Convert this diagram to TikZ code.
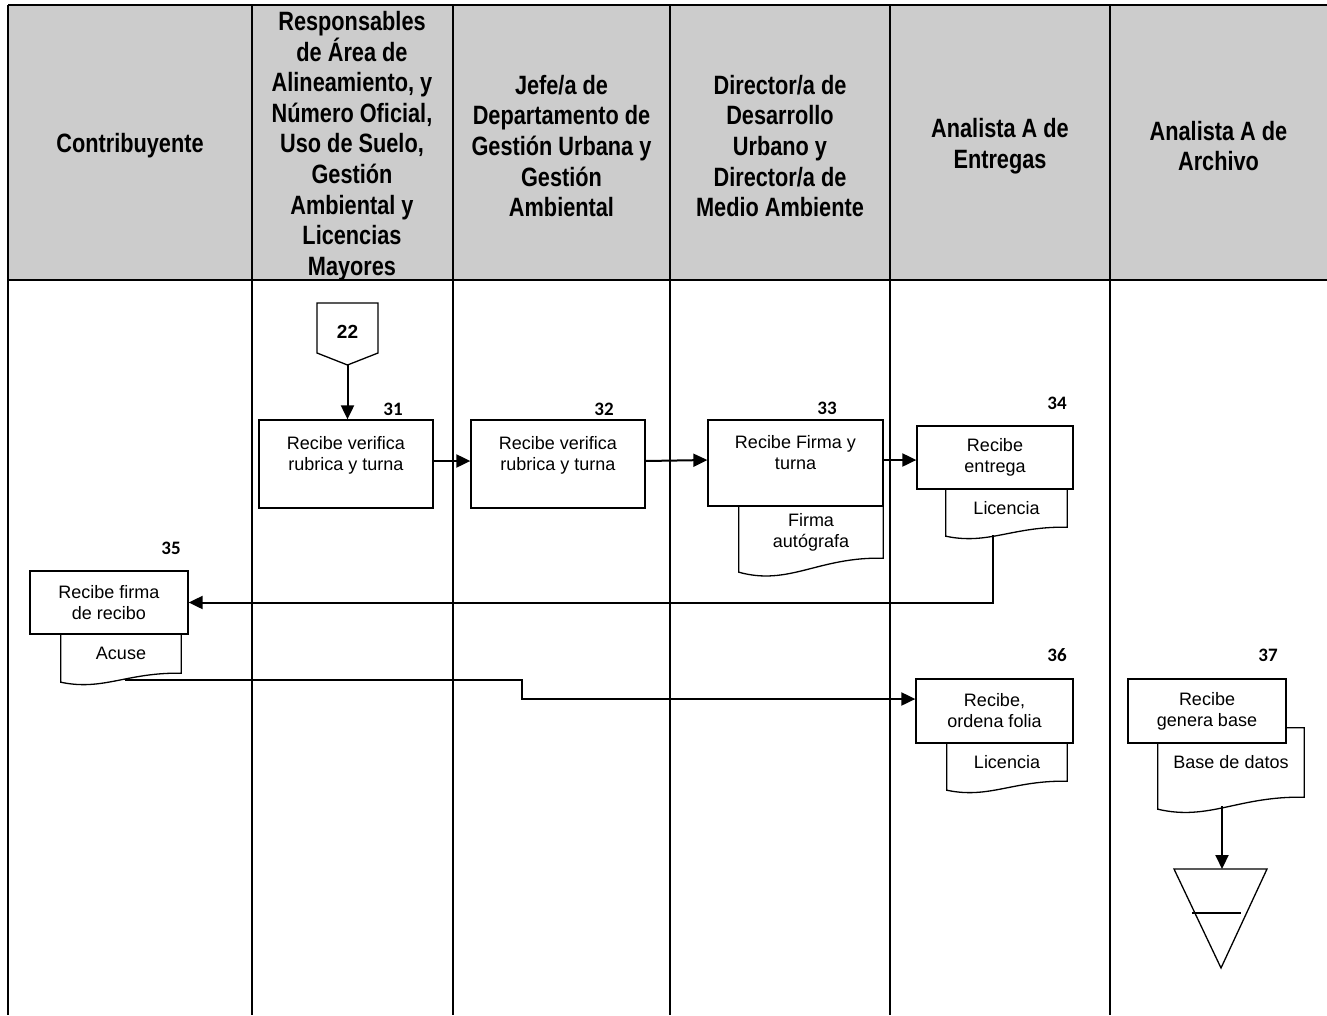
\documentclass[tikz,border=0pt]{standalone}
\usepackage{fontspec}
\setmainfont{Liberation Sans}
\newfontfamily\hdrfont[FakeStretch=0.82]{Liberation Sans}
\newfontfamily\numfont{Carlito}
\usetikzlibrary{arrows.meta, calc}
\usepackage{xcolor}
\definecolor{hdrgray}{RGB}{204,204,204}

% contorno de documento alrededor del nodo #1, onda #2
\newcommand{\docout}[2]{%
  \draw[shapeline] (#1.north west) -- (#1.north east) -- (#1.south east)
    .. controls ($(#1.south west)!0.55!(#1.south east)+(0,-0.11*#2)$)
    and ($(#1.south west)!0.35!(#1.south east)+(0,2*#2)$)
    .. ($(#1.south west)+(0,#2)$) -- cycle;}

\begin{document}
\begin{tikzpicture}[x=1pt, y=-1pt,
    tabline/.style={line width=2pt},
    shapeline/.style={line width=1.3pt},
    flow/.style={line width=2pt, -{Triangle[length=14pt,width=13pt]}},
    hdr/.style={font=\hdrfont\bfseries\fontsize{26.5}{30.6}\selectfont, align=center},
    procbox/.style={draw, line width=1.3pt, fill=white, inner sep=0pt, align=center,
      font=\fontsize{18}{21}\selectfont},
    docbox/.style={inner sep=0pt, align=center, font=\fontsize{18}{21}\selectfont},
    numlbl/.style={font=\numfont\bfseries\fontsize{19}{22}\selectfont}]
    \useasboundingbox (0,0) rectangle (1327,1015);

    % Encabezado
    \fill[hdrgray] (8,5) rectangle (1327,280);
    \draw[tabline] (8,5) -- (1327,5);
    \draw[tabline] (8,280) -- (1327,280);
    \foreach \x in {8,252,453,670,890,1110}
        \draw[tabline] (\x,5) -- (\x,1015);
    \node[hdr] (hContrib) at (130,146) {Contribuyente};
    \node[hdr] (hResp) at (352,146) {Responsables\\de Área de\\Alineamiento, y\\Número Oficial,\\Uso de Suelo,\\Gestión\\Ambiental y\\Licencias\\Mayores};
    \node[hdr] (hJefe) at (561.5,146) {Jefe/a de\\Departamento de\\Gestión Urbana y\\Gestión\\Ambiental};
    \node[hdr] (hDir) at (780,146) {Director/a de\\Desarrollo\\Urbano y\\Director/a de\\Medio Ambiente};
    \node[hdr] (hEntr) at (1000,146) {Analista A de\\Entregas};
    \node[hdr] (hArch) at (1218.5,146) {Analista A de\\Archivo};

    % Documentos
    \node[docbox, minimum width=144, minimum height=52] (d33) at (811,532) {Firma\\autógrafa};
    \docout{d33}{14}
    \node[docbox, minimum width=121, minimum height=38] (d34) at (1006.5,508) {Licencia};
    \docout{d34}{9}
    \node[docbox, minimum width=120, minimum height=39] (d35) at (121,653.5) {Acuse};
    \docout{d35}{9}
    \node[docbox, minimum width=120, minimum height=38] (d36) at (1007,762) {Licencia};
    \docout{d36}{9}
    \node[docbox, minimum width=146, minimum height=69] (d37) at (1231,762.5) {Base de datos};
    \docout{d37}{12}

    % Actividades
    \node[procbox, minimum width=174, minimum height=88] (b31) at (346,464) {Recibe verifica\\rubrica y turna\\\mbox{}};
    \node[procbox, minimum width=174, minimum height=88] (b32) at (558,464) {Recibe verifica\\rubrica y turna\\\mbox{}};
    \node[procbox, minimum width=175, minimum height=86] (b33) at (795.5,463) {Recibe Firma y\\turna\\\mbox{}};
    \node[procbox, minimum width=156, minimum height=63] (b34) at (995,457.5) {Recibe\\entrega};
    \node[procbox, minimum width=158, minimum height=63] (b35) at (109,602.5) {Recibe firma\\de recibo};
    \node[procbox, minimum width=157, minimum height=64] (b36) at (994.5,711) {Recibe,\\ordena folia};
    \node[procbox, minimum width=158, minimum height=64] (b37) at (1207,711) {Recibe\\genera base};

    \node[numlbl] (n31) at (393,409) {31};
    \node[numlbl] (n32) at (604,409) {32};
    \node[numlbl] (n33) at (827,408) {33};
    \node[numlbl] (n34) at (1057,403) {34};
    \node[numlbl] (n35) at (171,548) {35};
    \node[numlbl] (n36) at (1057,655) {36};
    \node[numlbl] (n37) at (1268,655) {37};

    % Conector 22
    \draw[shapeline] (317,303) -- (378,303) -- (378,353) -- (347.5,365) -- (317,353) -- cycle;
    \node[font=\bfseries\fontsize{19}{22}\selectfont] (c22) at (347.5,332) {22};
    \coordinate (c22tip) at (347.5,365);

    % Archivo
    \draw[shapeline] (1174,869) -- (1267,869) -- (1221,968) -- cycle;
    \draw[shapeline] (1192,913) -- (1241,913);
    \coordinate (arch) at (1222,869);

    % Flujo
    \coordinate (t34) at (993,535);
    \coordinate (t35) at (125,680);
    \coordinate (t37) at (1222,806);
    \draw[flow] (c22tip) -- (c22tip |- b31.north);
    \draw[flow] ([yshift=3pt]b31.east) -- ([yshift=3pt]b32.west);
    \draw[flow] ([yshift=3pt]b32.east) -- ([yshift=3pt]b33.west);
    \draw[flow] ([yshift=3pt]b33.east) -- ([yshift=3pt]b33.east -| b34.west);
    \draw[flow] (t34) |- (b35.east);
    \draw[flow] (t35) -- (522,680) |- ([yshift=12pt]b36.west);
    \draw[flow] (t37) -- (arch);
\end{tikzpicture}
\end{document}
